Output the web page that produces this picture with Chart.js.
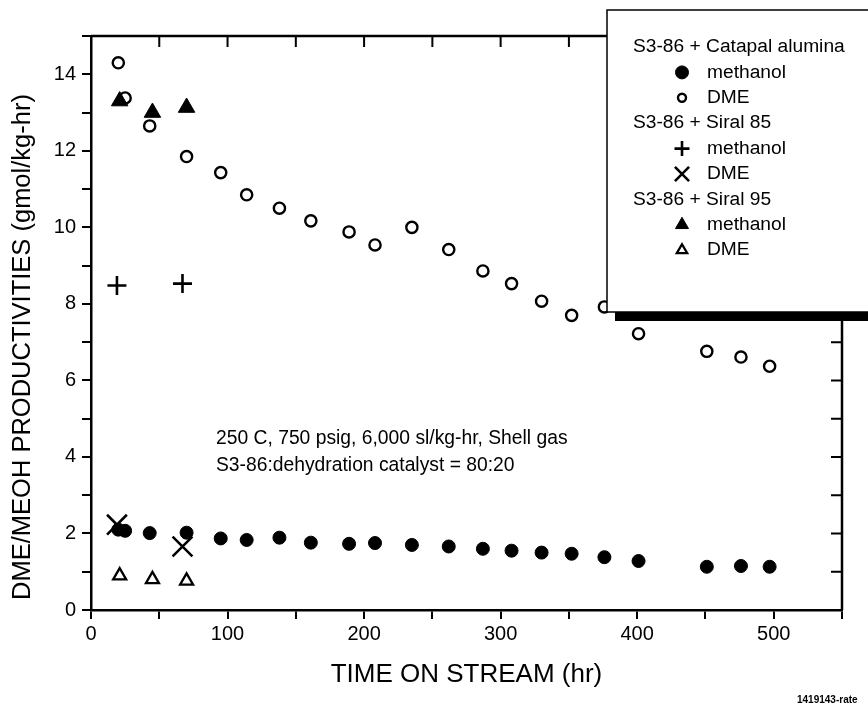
<!DOCTYPE html>
<html>
<head>
<meta charset="utf-8">
<script src="https://cdn.jsdelivr.net/npm/chart.js@4.4.1/dist/chart.umd.min.js"></script>
<style>
  html, body { margin: 0; padding: 0; background: #fff; }
  #wrap { width: 868px; height: 706px; }
</style>
</head>
<body>
<div id="wrap"><canvas id="c" width="868" height="706"></canvas></div>
<script>
// time on stream (hr) for the Catapal alumina run
var catapalTime = [20, 25, 43, 70, 95, 114, 138, 161, 189, 208, 235, 262, 287, 308, 330, 352, 376, 401, 451, 476, 497];
var catapalMeoh = [2.10, 2.07, 2.01, 2.02, 1.87, 1.83, 1.89, 1.76, 1.73, 1.75, 1.70, 1.66, 1.60, 1.55, 1.50, 1.47, 1.38, 1.28, 1.13, 1.15, 1.13];
var catapalDme  = [14.3, 13.38, 12.65, 11.85, 11.43, 10.85, 10.5, 10.17, 9.88, 9.54, 10.0, 9.42, 8.86, 8.53, 8.07, 7.70, 7.92, 7.22, 6.76, 6.61, 6.37];

var siral85Time = [19, 67];
var siral85Meoh = [8.48, 8.53];
var siral85Dme  = [2.23, 1.66];

var siral95Time = [21, 45, 70];
var siral95Meoh = [13.3, 13.0, 13.13];
var siral95Dme  = [0.90, 0.80, 0.76];

var groupNames = ['S3-86 + Catapal alumina', 'S3-86 + Siral 85', 'S3-86 + Siral 95'];
var noteLines = ['250 C, 750 psig, 6,000 sl/kg-hr, Shell gas', 'S3-86:dehydration catalyst = 80:20'];
var xTitle = 'TIME ON STREAM (hr)';
var yTitle = 'DME/MEOH PRODUCTIVITIES (gmol/kg-hr)';
var figId = '1419143-rate';

var FONT = '"Liberation Sans", Arial, sans-serif';

function pts(xs, ys) {
    var out = [];
    for (var i = 0; i < xs.length; i++) out.push({ x: xs[i], y: ys[i] });
    return out;
}

function ds(label, group, xs, ys, style, r, filled, bw, legendR) {
    return {
        label: label,
        group: group,
        data: pts(xs, ys),
        pointStyle: style,
        pointRadius: r,
        pointHoverRadius: r,
        pointBorderWidth: bw,
        pointBorderColor: '#000',
        pointBackgroundColor: filled ? '#000' : 'rgba(0,0,0,0)',
        legendRadius: legendR,
        showLine: false
    };
}

var datasets = [
    ds('methanol', 0, catapalTime, catapalMeoh, 'circle', 6.5, true, 1, 6.5),
    ds('DME', 0, catapalTime, catapalDme, 'circle', 5.6, false, 2.4, 4),
    ds('methanol', 1, siral85Time, siral85Meoh, 'cross', 9.5, false, 2.6, 7.5),
    ds('DME', 1, siral85Time, siral85Dme, 'crossRot', 14, false, 2.6, 10),
    ds('methanol', 2, siral95Time, siral95Meoh, 'triangle', 9.5, true, 1, 7.5),
    ds('DME', 2, siral95Time, siral95Dme, 'triangle', 7.5, false, 2.3, 6)
];

// top/right frame with inward ticks, y title, notes, legend box
var decorations = {
    id: 'decorations',
    afterDraw: function (chart) {
        var ctx = chart.ctx, a = chart.chartArea;
        var xs = chart.scales.x, ys = chart.scales.y;
        ctx.save();
        ctx.strokeStyle = '#000';
        ctx.lineWidth = 2.5;
        ctx.beginPath();
        ctx.moveTo(a.left, a.top); ctx.lineTo(a.right, a.top); ctx.lineTo(a.right, a.bottom);
        ctx.stroke();
        ctx.lineWidth = 2;
        ctx.beginPath();
        for (var v = 50; v < 550; v += 50) {
            var px = xs.getPixelForValue(v);
            ctx.moveTo(px, a.top); ctx.lineTo(px, a.top + 11);
        }
        for (var w = 1; w < 15; w++) {
            var py = ys.getPixelForValue(w);
            ctx.moveTo(a.right, py); ctx.lineTo(a.right - 11, py);
        }
        ctx.stroke();

        ctx.fillStyle = '#000';
        ctx.textBaseline = 'middle';
        ctx.font = '25.5px ' + FONT;
        ctx.save();
        ctx.translate(23, 347);
        ctx.rotate(-Math.PI / 2);
        ctx.textAlign = 'center';
        ctx.fillText(yTitle, 0, 0);
        ctx.restore();

        ctx.textAlign = 'left';
        ctx.font = '19.3px ' + FONT;
        ctx.fillText(noteLines[0], 216, 439);
        ctx.fillText(noteLines[1], 216, 466);

        ctx.font = 'bold 10px ' + FONT;
        ctx.fillText(figId, 797, 700);

        // legend box with drop shadow
        var lx = 607, ly = 10, lr = 880, lb = 312;
        ctx.fillRect(lx + 8, lb, lr - lx, 9);
        ctx.fillStyle = '#fff';
        ctx.fillRect(lx, ly, lr - lx, lb - ly);
        ctx.strokeStyle = '#000';
        ctx.lineWidth = 1.5;
        ctx.strokeRect(lx, ly, lr - lx, lb - ly);

        ctx.fillStyle = '#000';
        ctx.font = '19.2px ' + FONT;
        var y = 47, step = 25.4;
        var sets = chart.data.datasets;
        for (var g = 0; g < groupNames.length; g++) {
            ctx.fillStyle = '#000';
            ctx.fillText(groupNames[g], 633, y);
            y += step;
            for (var i = 0; i < sets.length; i++) {
                var d = sets[i];
                if (d.group !== g) continue;
                ctx.fillStyle = d.pointBackgroundColor;
                ctx.strokeStyle = '#000';
                ctx.lineWidth = d.pointBorderWidth;
                Chart.helpers.drawPoint(ctx, {
                    pointStyle: d.pointStyle,
                    radius: d.legendRadius,
                    borderWidth: d.pointBorderWidth,
                    rotation: 0
                }, 682, y);
                ctx.fillStyle = '#000';
                ctx.fillText(d.label, 707, y);
                y += step;
            }
        }
        ctx.restore();
    }
};

new Chart(document.getElementById('c'), {
    type: 'scatter',
    data: { datasets: datasets },
    plugins: [decorations],
    options: {
        responsive: false,
        animation: false,
        events: [],
        layout: { padding: { top: 36, right: 26, left: 0, bottom: 0 } },
        plugins: { legend: { display: false }, tooltip: { enabled: false } },
        scales: {
            x: {
                type: 'linear', min: 0, max: 550,
                afterFit: function (s) { s.height = 96; },
                border: { display: true, color: '#000', width: 2.5 },
                grid: { drawOnChartArea: false, drawTicks: true, tickLength: 9, color: '#000', lineWidth: 2 },
                ticks: {
                    stepSize: 50, padding: 3, color: '#000', maxRotation: 0,
                    font: { family: FONT, size: 20 },
                    callback: function (v) { return v % 100 === 0 ? v : ''; }
                },
                title: {
                    display: true, text: xTitle, color: '#000',
                    font: { family: FONT, size: 26 },
                    padding: { top: 0, bottom: 16 }
                }
            },
            y: {
                type: 'linear', min: 0, max: 15,
                afterFit: function (s) { s.width = 91; },
                border: { display: true, color: '#000', width: 2.5 },
                grid: { drawOnChartArea: false, drawTicks: true, tickLength: 9, color: '#000', lineWidth: 2 },
                ticks: {
                    stepSize: 1, padding: 6, color: '#000',
                    font: { family: FONT, size: 20 },
                    callback: function (v) { return v % 2 === 0 && v < 15 ? v : ''; }
                }
            }
        }
    }
});
</script>
</body>
</html>
